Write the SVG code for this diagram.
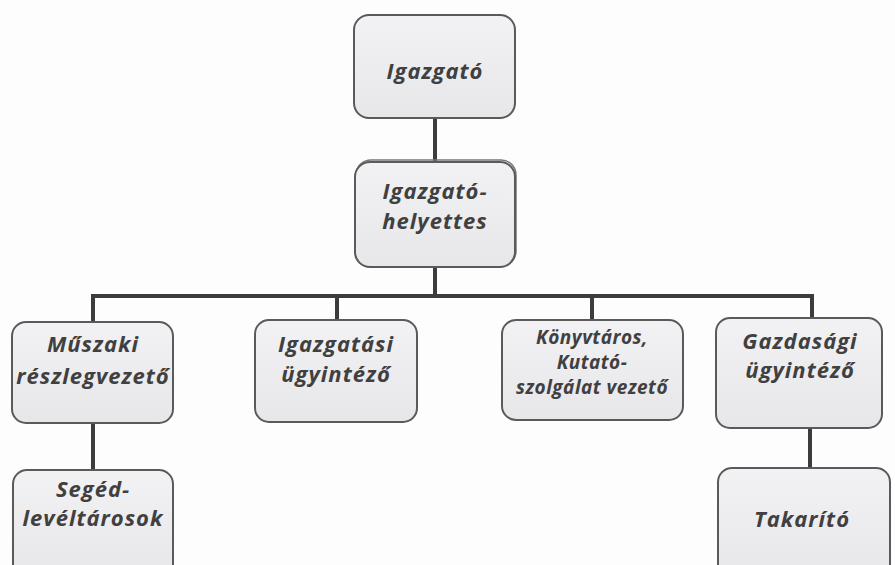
<svg xmlns="http://www.w3.org/2000/svg" width="895" height="565" viewBox="0 0 895 565">
<defs>
<linearGradient id="g" x1="0" y1="0" x2="0" y2="1">
<stop offset="0" stop-color="#f2f1f3"/>
<stop offset="1" stop-color="#e7e6e9"/>
</linearGradient>
</defs>
<style>
.box{fill:url(#g);stroke:#5a5a5a;stroke-width:2}
.t{font-family:"Open Sans","Noto Sans","Liberation Sans",sans-serif;font-style:italic;font-weight:bold;font-size:22px;letter-spacing:1px;fill:#404040;text-anchor:middle}
.s{font-size:19px;letter-spacing:0.5px}
.c{stroke:#3c3c3c;stroke-width:4;fill:none}
</style>
<rect width="895" height="565" fill="#fdfdfd"/>
<g id="connectors">
<line class="c" x1="435" y1="118" x2="435" y2="162"/>
<line class="c" x1="435" y1="267" x2="435" y2="296"/>
<polyline class="c" points="93,322 93,296 812,296 812,318"/>
<line class="c" x1="337" y1="296" x2="337" y2="320"/>
<line class="c" x1="592" y1="296" x2="592" y2="320"/>
<line class="c" x1="93" y1="423" x2="93" y2="470"/>
<line class="c" x1="810" y1="428" x2="810" y2="468"/>
</g>
<g id="igazgato">
<rect class="box" x="354" y="15" width="161" height="103" rx="15"/>
<text class="t" x="435" y="79">Igazgató</text>
</g>
<g id="helyettes">
<rect x="356" y="160" width="160" height="106" rx="15" fill="none" stroke="#777" stroke-width="1.5"/>
<rect class="box" x="355" y="162" width="160" height="105" rx="15"/>
<text class="t" x="435" y="199">Igazgató-</text>
<text class="t" x="435" y="229">helyettes</text>
</g>
<g id="muszaki">
<rect class="box" x="12" y="322" width="161" height="101" rx="14"/>
<text class="t" x="93" y="352">Műszaki</text>
<text class="t" x="93" y="384">részlegvezető</text>
</g>
<g id="igazgatasi">
<rect class="box" x="255" y="320" width="162" height="102" rx="14"/>
<text class="t" x="336" y="352">Igazgatási</text>
<text class="t" x="336" y="382">ügyintéző</text>
</g>
<g id="konyvtaros">
<rect class="box" x="502" y="320" width="181" height="100" rx="14"/>
<text class="t s" x="592" y="344">Könyvtáros,</text>
<text class="t s" x="592" y="369">Kutató-</text>
<text class="t s" x="592" y="394">szolgálat vezető</text>
</g>
<g id="gazdasagi">
<rect class="box" x="716" y="318" width="166" height="110" rx="14"/>
<text class="t" x="800" y="349">Gazdasági</text>
<text class="t" x="800" y="378">ügyintéző</text>
</g>
<g id="seged">
<rect class="box" x="13" y="470" width="160" height="110" rx="14"/>
<text class="t" x="93" y="497">Segéd-</text>
<text class="t" x="93" y="526">levéltárosok</text>
</g>
<g id="takarito">
<rect class="box" x="718" y="468" width="172" height="112" rx="14"/>
<text class="t" x="802" y="527">Takarító</text>
</g>
</svg>
